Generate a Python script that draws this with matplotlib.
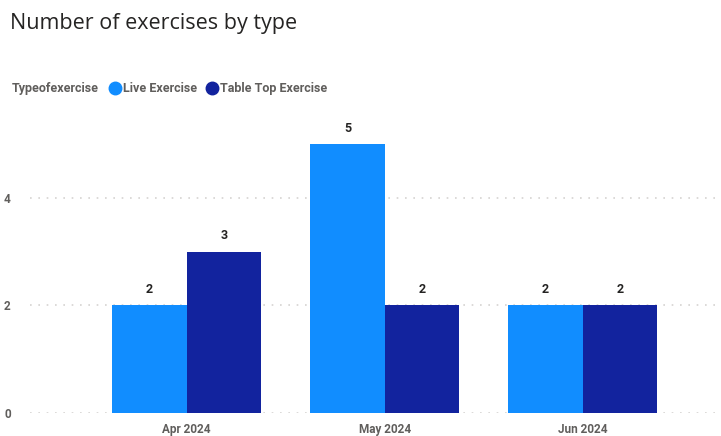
import matplotlib.pyplot as plt
from matplotlib.lines import Line2D
import numpy as np

# 数据
months = ["Apr 2024", "May 2024", "Jun 2024"]
live = [2, 5, 2]
table_top = [3, 2, 2]
series_names = ["Live Exercise", "Table Top Exercise"]
colors = ["#118DFF", "#12239E"]

plt.rcParams['font.family'] = ['Roboto', 'DejaVu Sans']

fig = plt.figure(figsize=(7.21, 4.36), dpi=100)
ax = fig.add_axes([0.042, 0.0528, 0.95, 0.679])

x = np.arange(len(months))
w = 0.375
bars1 = ax.bar(x - w / 2, live, w, color=colors[0])
bars2 = ax.bar(x + w / 2, table_top, w, color=colors[1])

# 数据标签
for bars in (bars1, bars2):
    for b in bars:
        ax.text(b.get_x() + b.get_width() / 2, b.get_height() + 0.17, "%d" % b.get_height(),
                ha="center", va="bottom", fontsize=9, fontweight="bold", color="#252423")

ax.set_xlim(-0.79, 2.67)
ax.set_ylim(0, 5.5)
ax.set_yticks([0, 2, 4])
ax.set_xticks(x)
ax.set_xticklabels(months)
ax.tick_params(length=0, labelsize=8.5, labelcolor="#605E5C")
ax.tick_params(axis="y", pad=14)
ax.tick_params(axis="x", pad=7.5)
for lab in ax.get_xticklabels() + ax.get_yticklabels():
    lab.set_fontweight("bold")
ax.yaxis.grid(True, linestyle=(0, (1, 4)), color="#D5D3D1", linewidth=1.2)
ax.set_axisbelow(True)
for s in ax.spines.values():
    s.set_visible(False)

# 标题和图例
fig.text(0.014, 0.945, "Number of exercises by type", fontsize=15.5, color="#252423",
         va="center", family=["Open Sans", "DejaVu Sans"])
ly = 0.798
fig.text(0.016, ly, "Typeofexercise", fontsize=9, fontweight="bold", color="#605E5C", va="center")
fig.lines.append(Line2D([0.1595], [ly], transform=fig.transFigure, marker="o", markersize=9,
                        color=colors[0], linestyle="none"))
fig.text(0.1700, ly, series_names[0], fontsize=9, fontweight="bold", color="#605E5C", va="center")
fig.lines.append(Line2D([0.294], [ly], transform=fig.transFigure, marker="o", markersize=9,
                        color=colors[1], linestyle="none"))
fig.text(0.3045, ly, series_names[1], fontsize=9, fontweight="bold", color="#605E5C", va="center")

plt.savefig("out.png", dpi=100)
